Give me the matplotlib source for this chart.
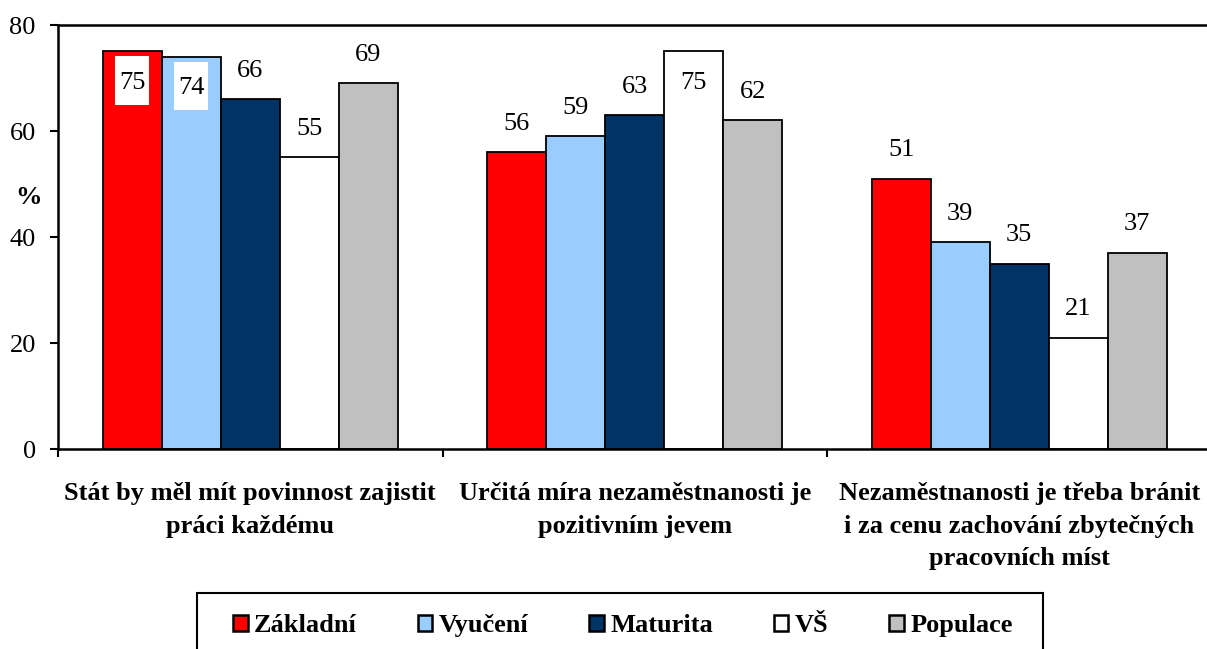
import matplotlib
matplotlib.use("Agg")
import matplotlib.pyplot as plt
import numpy as np
from matplotlib.patches import Rectangle

plt.rcParams['font.family'] = ['Liberation Serif', 'DejaVu Serif']

# data
categories = [
    "Stát by měl mít povinnost zajistit\npráci každému",
    "Určitá míra nezaměstnanosti je\npozitivním jevem",
    "Nezaměstnanosti je třeba bránit\ni za cenu zachování zbytečných\npracovních míst",
]
series = ["Základní", "Vyučení", "Maturita", "VŠ", "Populace"]
zakladni = [75, 56, 51]
vyuceni = [74, 59, 39]
maturita = [66, 63, 35]
vs = [55, 75, 21]
populace = [69, 62, 37]
values = [zakladni, vyuceni, maturita, vs, populace]
colors = ["#FF0000", "#99CCFF", "#003366", "#FFFFFF", "#C0C0C0"]

FS = 19
W, H = 1207, 649
fig = plt.figure(figsize=(W / 100, H / 100), dpi=100)
ax = fig.add_axes([58 / W, (H - 449) / H, 1153.5 / W, 424 / H])

x = np.arange(len(categories))
bw = 0.1535
px_per_unit = 424 / 80.0

for i, (name, vals, col) in enumerate(zip(series, values, colors)):
    xs = x + (i - 2) * bw
    ax.bar(xs, vals, bw, color=col, edgecolor='black', linewidth=1.3,
           label=name, zorder=2)
    for xi, v in zip(xs, vals):
        if v >= 74:
            # label moved inside the bar on a white box
            yc = v - 29 / px_per_unit
            bh = 48 / px_per_unit
            bwid = 34 / 384.5
            ax.add_patch(Rectangle((xi - bwid / 2, yc - bh / 2), bwid, bh,
                                   facecolor='white', edgecolor='none', zorder=3))
            ax.text(xi, yc - 0.5, str(v), ha='center', va='center', fontsize=FS, zorder=4)
        else:
            ax.annotate(str(v), (xi, v), xytext=(0, 20.5), textcoords='offset points',
                        ha='center', va='center', fontsize=FS)

ax.set_xlim(-0.5, 2.5)
ax.set_ylim(0, 80)
ax.set_yticks([0, 20, 40, 60, 80])
ax.tick_params(axis='y', labelsize=FS, length=6, width=1.5, pad=10, direction='out')

ax.set_xticks(x)
ax.set_xticklabels(categories, fontsize=FS, fontweight='bold', linespacing=1.52)
ax.tick_params(axis='x', which='major', length=0, pad=24)
ax.set_xticks([-0.5, 0.5, 1.5, 2.5], minor=True)
ax.tick_params(axis='x', which='minor', length=6, width=1.5, direction='out')

for s in ['left', 'top', 'bottom']:
    ax.spines[s].set_linewidth(1.8)
ax.spines['right'].set_visible(False)

fig.text(28 / W, 1 - 197 / H, "%", fontsize=FS, fontweight='bold',
         ha='center', va='center')

# legend box (runs off the bottom of the picture)
fig.patches.append(Rectangle((197 / W, -0.05), (1043 - 197) / W, 0.05 + (H - 593) / H,
                             transform=fig.transFigure, facecolor='white',
                             edgecolor='black', linewidth=1.5, zorder=0))
leg = fig.legend(loc='upper left', bbox_to_anchor=(212 / W, 1 - 593 / H),
                 ncol=5, prop={'weight': 'bold', 'size': FS}, frameon=False,
                 handlelength=0.55, handleheight=0.55, handletextpad=0.25,
                 columnspacing=2.3, borderpad=0.8, borderaxespad=0)
for h in leg.legend_handles:
    h.set_linewidth(1.8)

fig.savefig("out.png", dpi=100)
